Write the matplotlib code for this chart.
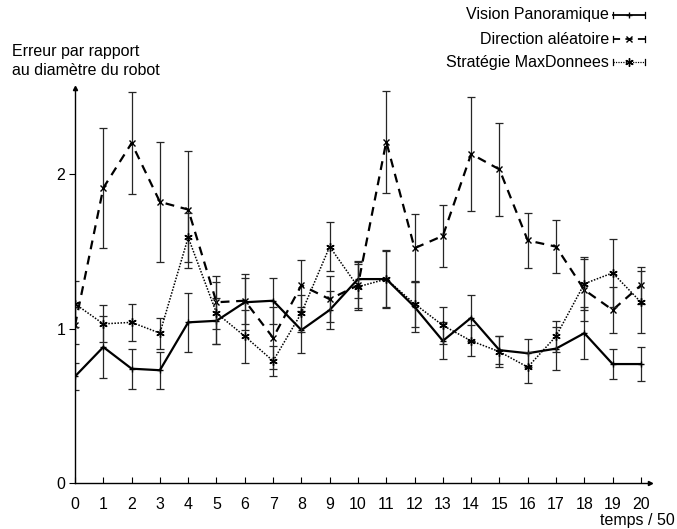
import numpy as np
import matplotlib
matplotlib.use('Agg')
import matplotlib.pyplot as plt
from matplotlib.lines import Line2D

plt.rcParams['font.family'] = ['Liberation Sans', 'DejaVu Sans']

# Data
temps = list(range(21))

vision = [0.69, 0.88, 0.74, 0.73, 1.04, 1.05, 1.17, 1.18, 0.99, 1.12, 1.32,
          1.32, 1.14, 0.92, 1.07, 0.86, 0.84, 0.87, 0.97, 0.77, 0.77]
vision_err = [0.09, 0.20, 0.13, 0.12, 0.19, 0.15, 0.18, 0.15, 0.15, 0.12, 0.12,
              0.19, 0.16, 0.12, 0.15, 0.09, 0.09, 0.14, 0.17, 0.10, 0.11]

direction = [1.02, 1.91, 2.20, 1.82, 1.77, 1.17, 1.18, 0.94, 1.28, 1.19, 1.28,
             2.21, 1.52, 1.60, 2.13, 2.03, 1.57, 1.53, 1.25, 1.12, 1.28]
direction_err = [0.12, 0.39, 0.33, 0.39, 0.38, 0.17, 0.15, 0.20, 0.165, 0.15, 0.15,
                 0.33, 0.22, 0.20, 0.37, 0.30, 0.18, 0.17, 0.20, 0.15, 0.12]

strategie = [1.16, 1.03, 1.04, 0.97, 1.59, 1.10, 0.95, 0.79, 1.10, 1.53, 1.27,
             1.32, 1.16, 1.02, 0.92, 0.85, 0.75, 0.95, 1.29, 1.36, 1.17]
strategie_err = [0.15, 0.12, 0.12, 0.10, 0.16, 0.20, 0.17, 0.10, 0.12, 0.16, 0.15,
                 0.18, 0.15, 0.12, 0.10, 0.10, 0.10, 0.10, 0.17, 0.22, 0.20]

labels = ['Vision Panoramique', 'Direction aléatoire', 'Stratégie MaxDonnees']

fig = plt.figure(figsize=(6.77, 5.29), dpi=100)
ax = fig.add_axes([75/677, 46/529, 575/677, 395/529])

styles = [
    dict(ls='-', lw=1.6, marker='+', ms=5, mew=1.0),
    dict(ls=(0, (4, 3)), lw=1.6, marker='x', ms=5, mew=1.0),
    dict(ls=(0, (1, 1)), lw=1.1, marker=(6, 2, 0), ms=6, mew=1.0),
]
series = [(vision, vision_err), (direction, direction_err), (strategie, strategie_err)]

for (vals, errs), st in zip(series, styles):
    ax.errorbar(temps, vals, yerr=errs, fmt='none', ecolor='0.15',
                elinewidth=0.9, capsize=3, capthick=0.9)
    ax.plot(temps, vals, color='black', **st)

ax.set_xlim(0, 20.32)
ax.set_ylim(0, 2.557)
ax.spines['top'].set_visible(False)
ax.spines['right'].set_visible(False)
for s in ['left', 'bottom']:
    ax.spines[s].set_linewidth(1.0)

fs = 11.5
ax.set_xticks(temps)
ax.set_yticks([0, 1, 2])
ax.tick_params(axis='x', direction='in', length=4, labelsize=fs, pad=10)
ax.tick_params(axis='y', direction='out', length=4, labelsize=fs, pad=3)

# axis arrows
ax.plot(1, 0, '>k', ms=3, transform=ax.transAxes, clip_on=False)
ax.plot(0, 1, '^k', ms=3, transform=ax.transAxes, clip_on=False)

fig.text(12/677, 1 - 61/529, 'Erreur par rapport\nau diamètre du robot',
         fontsize=fs, ha='left', va='center', linespacing=1.3)
fig.text(675/677, 1 - 520/529, 'temps / 50', fontsize=fs, ha='right', va='center')

# legend drawn by hand (gnuplot style)
rows = [15, 39, 62]
for lab, st, yr in zip(labels, styles, rows):
    yf = 1 - yr/529
    fig.text(609/677, yf, lab, fontsize=fs, ha='right', va='center')
    x0, x1 = 613/677, 645/677
    fig.add_artist(Line2D([x0, x1], [yf, yf], color='black', ls=st['ls'], lw=st['lw'] * 0.8,
                          transform=fig.transFigure))
    for xe in (x0, x1):
        fig.add_artist(Line2D([xe, xe], [yf - 3/529, yf + 3/529], color='black', lw=0.9,
                              transform=fig.transFigure))
    fig.add_artist(Line2D([(x0 + x1) / 2], [yf], color='black', ls='none',
                          marker=st['marker'], ms=st['ms'], mew=st['mew'],
                          transform=fig.transFigure))

fig.savefig('out.png', dpi=100)
